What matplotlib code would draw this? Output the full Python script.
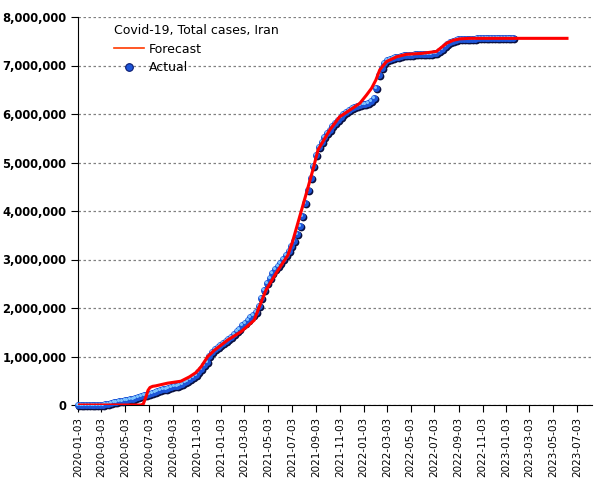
import matplotlib
matplotlib.use("Agg")
import matplotlib.pyplot as plt
import matplotlib.transforms as mtransforms
from matplotlib.lines import Line2D
from matplotlib.ticker import FuncFormatter
import pandas as pd
import numpy as np

# ---------------- data ----------------
title = "Covid-19, Total cases, Iran"
actual_start = "2020-01-03"   # weekly observations
actual_values_k = [
    0, 0, 0, 0, 0, 0, 0, 0.018, 0.388, 4.7,
    11.4, 19.6, 32.3, 53.2, 68.2, 79.5, 88.2, 95.6, 104.7, 116.6,
    131.7, 146.7, 167.2, 185.0, 200.3, 215.1, 235.4, 250.5, 267.1, 284.0,
    304.2, 322.6, 338.8, 354.8, 369.9, 382.8, 399.9, 419.0, 439.9, 468.1,
    500.1, 534.6, 574.9, 612.8, 673.3, 738.3, 815.1, 894.4, 1003, 1083,
    1152, 1194, 1232, 1275, 1316, 1360, 1412, 1466, 1521, 1576,
    1640, 1699, 1754, 1808, 1855, 1922, 2040, 2210, 2365, 2516,
    2626, 2719, 2798, 2861, 2933, 3010, 3090, 3170, 3270, 3390,
    3530, 3700, 3900, 4160, 4430, 4680, 4930, 5150, 5310, 5430,
    5520, 5600, 5680, 5750, 5820, 5880, 5940, 6000, 6050, 6090,
    6120, 6150, 6170, 6185, 6200, 6210, 6230, 6260, 6330, 6540,
    6800, 6950, 7050, 7110, 7140, 7160, 7170, 7180, 7195, 7210,
    7217, 7222, 7225, 7228, 7230, 7231, 7232, 7233, 7235, 7240,
    7248, 7265, 7300, 7350, 7400, 7450, 7490, 7515, 7530, 7540,
    7546, 7550, 7552, 7554, 7555, 7556, 7557, 7558, 7559, 7560,
    7561, 7562, 7563, 7563, 7564, 7564, 7565, 7565, 7566, 7566,
]

forecast_dates = [
    "2020-01-03", "2020-06-12", "2020-06-18", "2020-06-25", "2020-06-30",
    "2020-07-05", "2020-07-12", "2020-07-20", "2020-08-19", "2020-09-22",
    "2020-10-14", "2020-10-31", "2020-11-13", "2020-11-30", "2020-12-17",
    "2021-01-20", "2021-02-23", "2021-03-29", "2021-04-11", "2021-04-28",
    "2021-05-24", "2021-06-23", "2021-07-05", "2021-07-23", "2021-08-09",
    "2021-08-26", "2021-09-08", "2021-10-08", "2021-11-02", "2021-11-28",
    "2021-12-24", "2022-01-10", "2022-01-23", "2022-02-03", "2022-02-13",
    "2022-03-02", "2022-03-28", "2022-04-22", "2022-06-01", "2022-07-08",
    "2022-08-03", "2022-08-20", "2022-09-06", "2022-10-01", "2023-06-07",
]
forecast_values_k = [
    0, 0, 20, 170, 300,
    360, 385, 395, 450, 490,
    580, 670, 790, 1000, 1130,
    1340, 1510, 1750, 2030, 2370,
    2720, 3090, 3370, 3880, 4360,
    4850, 5260, 5670, 5940, 6080,
    6220, 6390, 6530, 6700, 6910,
    7080, 7180, 7230, 7250, 7290,
    7460, 7520, 7550, 7560, 7560,
]

y_ticks = [0, 1e6, 2e6, 3e6, 4e6, 5e6, 6e6, 7e6, 8e6]
x_tick_start = "2020-01-03"
x_tick_end = "2023-07-03"
x_min = "2020-01-03"
x_max = "2023-08-10"

# ---------------- figure ----------------
fig = plt.figure(figsize=(6.05, 4.8), dpi=100)
ax = fig.add_axes([78 / 605, 1 - 405 / 480, (592 - 78) / 605, (405 - 17) / 480])

act_dates = pd.date_range(actual_start, periods=len(actual_values_k), freq="7D")
act_vals = np.array(actual_values_k) * 1000
fc_dates = pd.to_datetime(forecast_dates)
fc_vals = np.array(forecast_values_k) * 1000

def off(dx, dy):
    return mtransforms.offset_copy(ax.transData, fig=fig, x=dx, y=dy, units="dots")

# sphere-like markers: shadow, body, highlight
ax.plot(act_dates, act_vals, ls="none", marker="o", ms=5.6, mfc="#0a1040",
        mec="none", transform=off(1.0, -1.0), zorder=3, clip_on=False)
ax.plot(act_dates, act_vals, ls="none", marker="o", ms=5.0, mfc="#1d55d8",
        mec="none", zorder=4, clip_on=False)
ax.plot(act_dates, act_vals, ls="none", marker="o", ms=2.2, mfc="#7cc4ff",
        mec="none", transform=off(-1.0, 1.0), zorder=5, clip_on=False)

ax.plot(fc_dates, fc_vals, color="#ff0000", lw=2.2, zorder=6, solid_joinstyle="round")

ax.set_ylim(0, 8e6)
ax.set_xlim(pd.Timestamp(x_min), pd.Timestamp(x_max))
ax.set_yticks(y_ticks)
ax.yaxis.set_major_formatter(FuncFormatter(lambda v, p: f"{int(v):,}"))

xt = pd.date_range(x_tick_start, x_tick_end, freq=pd.DateOffset(months=2))
ax.set_xticks(xt)
ax.set_xticklabels([d.strftime("%Y-%m-%d") for d in xt], rotation=90,
                   fontsize=7.5, fontweight="medium")
for lab in ax.get_yticklabels():
    lab.set_fontsize(8.3)
    lab.set_fontweight("bold")

ax.grid(axis="y", color="#808080", linestyle=(0, (2, 2)), lw=0.9)
ax.grid(axis="x", visible=False)
for s in ["top", "right"]:
    ax.spines[s].set_visible(False)
ax.spines["left"].set_color("black")
ax.spines["bottom"].set_color("black")
ax.tick_params(axis="both", direction="out", length=5, color="black", labelcolor="black")
ax.set_axisbelow(True)

h_fc = Line2D([], [], color="#ff3a00", lw=1.2)
h_act = Line2D([], [], ls="none", marker="o", ms=5.5, mfc="#1d55d8", mec="#0a1a70", mew=0.8)
leg = ax.legend([h_fc, h_act], ["Forecast", "Actual"], title=title,
                loc="upper left", bbox_to_anchor=(0.06, 0.995), frameon=False,
                fontsize=9, title_fontsize=9, handlelength=2.4, handletextpad=0.4,
                labelspacing=0.45, borderaxespad=0.0)
leg._legend_box.align = "left"

fig.savefig("out.png", dpi=100)
